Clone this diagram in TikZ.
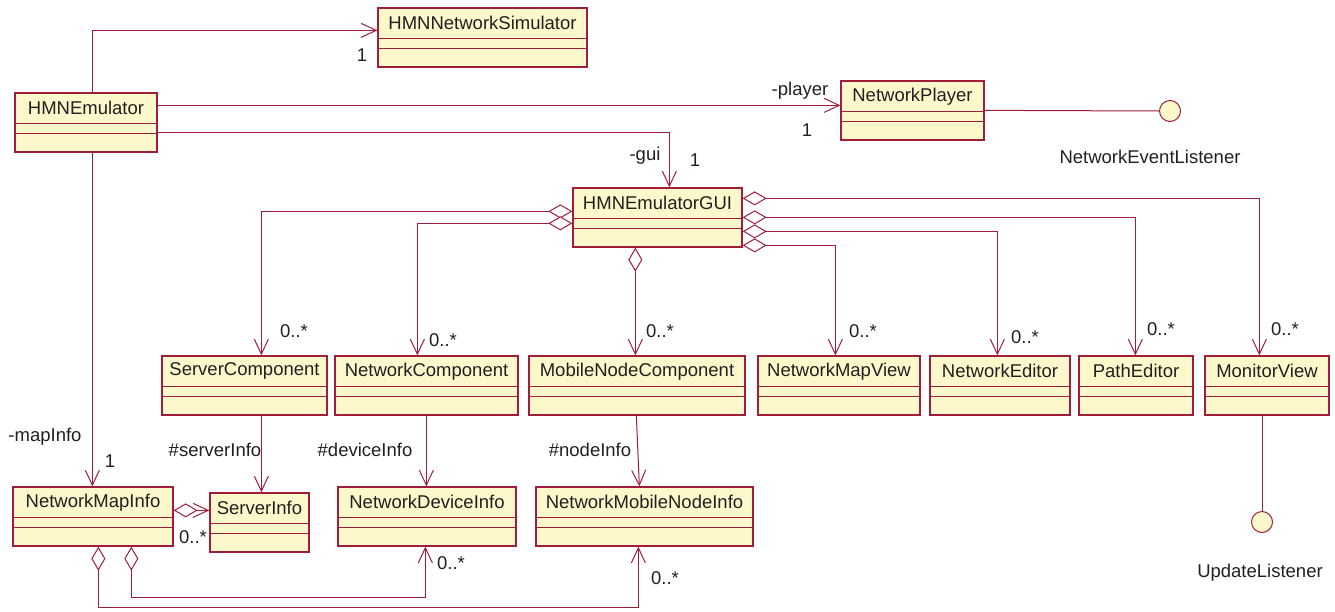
\documentclass[tikz,border=0pt]{standalone}
\usepackage{fontspec}
\setmainfont{Liberation Sans}
\usetikzlibrary{arrows.meta,fit}
\definecolor{umlline}{RGB}{160,30,60}
\definecolor{umlfill}{RGB}{252,248,204}
\definecolor{umltext}{RGB}{35,31,32}
\tikzset{
  classbox/.style={draw=umlline, fill=umlfill, line width=1.3pt, inner sep=0pt},
  sepline/.style={draw=umlline, line width=1pt},
  classname/.style={text=umltext, inner sep=0pt},
  lbl/.style={text=umltext, inner sep=0pt},
  conn/.style={draw=umlline, line width=1pt},
  assoc/.style={conn, -{Straight Barb[length=15pt,width=14pt,line width=1pt]}},
  agg/.style={conn, {Diamond[length=24pt,width=14pt,fill=white,line width=1pt]}-{Straight Barb[length=15pt,width=14pt,line width=1pt]}},
  lolli/.style={circle, draw=umlline, fill=umlfill, line width=1pt, minimum size=21pt, inner sep=0pt},
}
\newcommand{\umlclass}[5]{%
  \node[classbox, fit={(#2,#3) (#4,#3+59)}] (#1) {};
  \draw[sepline] ([yshift=-31pt]#1.north west) -- ([yshift=-31pt]#1.north east);
  \draw[sepline] ([yshift=-41pt]#1.north west) -- ([yshift=-41pt]#1.north east);
  \node[classname] at ([yshift=-16pt]#1.north) {#5};
}
\begin{document}
\begin{tikzpicture}[x=1pt,y=-1pt,font=\fontsize{18.5}{22}\selectfont]
\useasboundingbox (0,0) rectangle (1335,611);

% classes
\umlclass{sim}{378}{8}{587}{HMNNetworkSimulator}
\umlclass{emu}{15}{93}{157}{HMNEmulator}
\umlclass{player}{841}{81}{984}{NetworkPlayer}
\umlclass{gui}{573}{188}{742}{HMNEmulatorGUI}
\umlclass{srvc}{162}{356}{327}{ServerComponent}
\umlclass{netc}{335}{356}{518}{NetworkComponent}
\umlclass{mobc}{529}{356}{745}{MobileNodeComponent}
\umlclass{mapv}{758}{356}{920}{NetworkMapView}
\umlclass{nedit}{930}{356}{1070}{NetworkEditor}
\umlclass{pedit}{1079}{356}{1193}{PathEditor}
\umlclass{monv}{1205}{356}{1329}{MonitorView}
\umlclass{mapinfo}{13}{487}{173}{NetworkMapInfo}
\umlclass{srvinfo}{210}{493}{309}{ServerInfo}
\umlclass{devinfo}{338}{487}{516}{NetworkDeviceInfo}
\umlclass{mninfo}{536}{487}{753}{NetworkMobileNodeInfo}

% interfaces
\node[lolli] (evl) at (1170,111) {};
\node[lbl] at (1150,157) {NetworkEventListener};
\node[lolli] (upl) at (1262,522) {};
\node[lbl] at (1260,573) {UpdateListener};

% HMNEmulator associations
\draw[assoc] ([xshift=78pt]emu.north west) |- ([yshift=-23pt]sim.north west);
\node[lbl] at (362,55) {1};
\draw[assoc] ([yshift=-13pt]emu.north east) -- ([yshift=-25pt]player.north west);
\node[lbl] at (800,91) {-player};
\node[lbl] at (807,130) {1};
\draw[assoc] ([yshift=-40pt]emu.north east) -| ([xshift=97pt]gui.north west);
\node[lbl] at (645,156) {-gui};
\node[lbl] at (695,160) {1};
\draw[assoc] ([xshift=78pt]emu.south west) -- ([xshift=80pt]mapinfo.north west);
\node[lbl] at (45,437) {-mapInfo};
\node[lbl] at (110,461) {1};

% lollipop connections
\draw[conn] ([yshift=-30pt]player.north east) -- (evl.west);
\draw[conn] (upl |- monv.south) -- (upl.north);

% GUI aggregations
\draw[agg] ([yshift=-24pt]gui.north west) -| ([xshift=100pt]srvc.north west);
\node[lbl] at (294,331) {0..*};
\draw[agg] ([yshift=-36pt]gui.north west) -| ([xshift=83pt]netc.north west);
\node[lbl] at (443,340) {0..*};
\draw[agg] ([xshift=63pt]gui.south west) -- ([xshift=107pt]mobc.north west);
\node[lbl] at (660,331) {0..*};
\draw[agg] ([yshift=-58pt]gui.north east) -| ([xshift=78pt]mapv.north west);
\node[lbl] at (863,331) {0..*};
\draw[agg] ([yshift=-44pt]gui.north east) -| ([xshift=68pt]nedit.north west);
\node[lbl] at (1025,337) {0..*};
\draw[agg] ([yshift=-30pt]gui.north east) -| ([xshift=57pt]pedit.north west);
\node[lbl] at (1161,329) {0..*};
\draw[agg] ([yshift=-11pt]gui.north east) -| ([xshift=55pt]monv.north west);
\node[lbl] at (1285,329) {0..*};

% component -> info
\draw[assoc] ([xshift=100pt]srvc.south west) -- ([xshift=52pt]srvinfo.north west);
\node[lbl] at (215,450) {\#serverInfo};
\draw[assoc] ([xshift=92pt]netc.south west) -- ([xshift=89pt]devinfo.north west);
\node[lbl] at (365,450) {\#deviceInfo};
\draw[assoc] ([xshift=108pt]mobc.south west) -- ([xshift=104pt]mninfo.north west);
\node[lbl] at (590,450) {\#nodeInfo};

% map info aggregations
\draw[agg] ([yshift=-24pt]mapinfo.north east) -- ([yshift=-18pt]srvinfo.north west);
\node[lbl] at (193,537) {0..*};
\draw[agg] ([xshift=119pt]mapinfo.south west) -- ++(0,51) -| ([xshift=88pt]devinfo.south west);
\node[lbl] at (451,563) {0..*};
\draw[agg] ([xshift=86pt]mapinfo.south west) -- ++(0,61) -| ([xshift=103pt]mninfo.south west);
\node[lbl] at (665,578) {0..*};
\end{tikzpicture}
\end{document}
